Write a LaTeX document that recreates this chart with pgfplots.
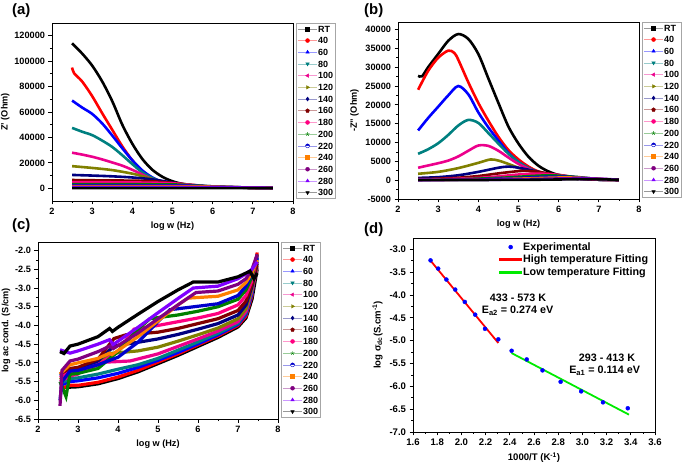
\documentclass[border=0pt]{standalone}
\usepackage{pgfplots}
\pgfplotsset{compat=1.18}
\usepackage{fontspec}
\setmainfont{Liberation Sans}
\usetikzlibrary{plotmarks}

\definecolor{cteal}{RGB}{0,128,128}
\definecolor{colive}{RGB}{128,128,0}
\definecolor{cnavy}{RGB}{0,0,128}
\definecolor{cwine}{RGB}{128,0,0}
\definecolor{cpink}{RGB}{255,0,128}
\definecolor{cgreen}{RGB}{0,128,0}
\definecolor{croyal}{RGB}{0,0,205}
\definecolor{corange}{RGB}{255,128,0}
\definecolor{cpurple}{RGB}{128,0,128}
\definecolor{cviolet}{RGB}{128,0,255}
\definecolor{cfit}{RGB}{0,235,0}
\definecolor{cfitred}{RGB}{255,0,0}

\pgfplotsset{
  sRT/.style={black, mark=square*},
  s40/.style={red, mark=*},
  s60/.style={blue, mark=triangle*},
  s80/.style={cteal, mark=triangle*, mark options={rotate=180}},
  s100/.style={magenta, mark=triangle*, mark options={rotate=90}},
  s120/.style={colive, mark=triangle*, mark options={rotate=-90}},
  s140/.style={cnavy, mark=diamond*},
  s160/.style={cwine, mark=pentagon*},
  s180/.style={cpink, mark=*},
  s200/.style={cgreen, mark=star},
  s220/.style={croyal, mark=halfcircle*},
  s240/.style={corange, mark=square*},
  s260/.style={cpurple, mark=*},
  s280/.style={cviolet, mark=triangle*},
  s300/.style={black, mark=triangle*, mark options={rotate=180}},
  panel/.style={scale only axis, tick align=outside, xtick pos=left, ytick pos=left,
    axis line style={line width=0.9pt}, major tick length=3.5bp, minor tick length=2bp,
    every tick/.style={black, line width=0.8pt},
    tick label style={font=\bfseries\fontsize{9.2}{10}\selectfont},
    label style={font=\bfseries\fontsize{9.2}{10}\selectfont},
    /pgf/number format/assume math mode=true,
    minor x tick num=1, minor y tick num=1},
  densepanel/.style={panel,
    every axis plot/.append style={line width=2.6bp, mark repeat=1000, mark phase=1000, mark size=1.8bp},
    legend cell align=left,
    legend style={at={(1.0125,1)}, anchor=north west, draw=black!35, line width=0.6pt, fill=white,
      inner sep=1.5bp, font=\bfseries\fontsize{9}{9}\selectfont, row sep=3.6bp,
      nodes={inner sep=0.8bp, text height=6.5bp, text depth=0bp},
      /tikz/every even column/.append style={column sep=1.5bp}},
    legend image code/.code={
      \draw[##1, line width=0.5bp, draw opacity=0.4] (0bp,0bp) -- (19bp,0bp);
      \draw[##1, line width=0.4bp, draw opacity=1, mark repeat=1, mark phase=1, mark size=2bp] plot coordinates {(9.5bp,0bp)};
    }},
}

\begin{document}
\begin{tikzpicture}
\path[use as bounding box] (0,0) rectangle (685bp,468bp);

% ---------------- (a) ----------------
\begin{axis}[densepanel, at={(52bp,267bp)}, anchor=south west, width=241bp, height=178bp,
  xmin=2, xmax=8, ymin=-10000, ymax=130000, xtick={2,...,8},
  ytick={0,20000,...,120000}, scaled y ticks=false, ylabel shift=-2bp,
  yticklabel style={/pgf/number format/.cd, fixed, precision=0, 1000 sep={}},
  xlabel={log w (Hz)}, ylabel={Z' (Ohm)}]
\addplot[sRT, smooth] coordinates {(2.5,114000)(2.75,106000)(3,96500)(3.25,84000)(3.5,68500)(3.75,50000)(4,35000)(4.25,23000)(4.5,14500)(4.75,9000)(5,5500)(5.25,3400)(5.5,2200)(6,1000)(6.5,600)(7,350)(7.5,250)};
\addplot[s40, smooth] coordinates {(2.5,95000)(2.55,90500)(2.75,84000)(3,72500)(3.25,59000)(3.5,46000)(3.75,33000)(4,22000)(4.25,13500)(4.5,8000)(4.75,4800)(5,3100)(5.5,1600)(6,900)(7,400)(7.5,250)};
\addplot[s60, smooth] coordinates {(2.5,69000)(2.75,63500)(3,58500)(3.25,51000)(3.5,41500)(3.75,31500)(4,22000)(4.25,14000)(4.5,8500)(4.75,5000)(5,3200)(5.5,1700)(6,900)(7,400)(7.5,250)};
\addplot[s80, smooth] coordinates {(2.5,47500)(2.75,44500)(3,41800)(3.25,37500)(3.5,32500)(3.75,26000)(4,19000)(4.25,12500)(4.5,8000)(4.75,5000)(5,3200)(5.5,1700)(6,900)(7,400)(7.5,250)};
\addplot[s100, smooth] coordinates {(2.5,28000)(2.75,26500)(3,24800)(3.25,22700)(3.5,20300)(3.75,17800)(4,14500)(4.25,10800)(4.5,7000)(4.75,4600)(5,3100)(5.5,1700)(6,900)(7,400)(7.5,250)};
\addplot[s120, smooth] coordinates {(2.5,17400)(3,16000)(3.5,14300)(4,11500)(4.25,9500)(4.5,7200)(4.75,5000)(5,3500)(5.5,1800)(6,900)(7,400)(7.5,250)};
\addplot[s140, smooth] coordinates {(2.5,10500)(3,10000)(3.5,9400)(4,8500)(4.5,7000)(5,4500)(5.5,2200)(6,1000)(7,400)(7.5,250)};
\addplot[s160, smooth] coordinates {(2.5,6500)(3,6300)(4,6000)(4.5,5500)(5,4300)(5.5,2500)(6,1100)(7,400)(7.5,250)};
\addplot[s180, smooth] coordinates {(2.5,4800)(3.5,4700)(4.5,4400)(5,3900)(5.5,2700)(6,1300)(7,450)(7.5,250)};
\addplot[s200, smooth] coordinates {(2.5,3300)(4,3200)(5,3000)(5.5,2500)(6,1500)(7,500)(7.5,250)};
\addplot[s220, smooth] coordinates {(2.5,2400)(5,2300)(5.5,2100)(6,1500)(7,500)(7.5,250)};
\addplot[s240, smooth] coordinates {(2.5,1700)(5.5,1600)(6,1300)(7,500)(7.5,250)};
\addplot[s260, smooth] coordinates {(2.5,1100)(6,1000)(7,500)(7.5,250)};
\addplot[s280, smooth] coordinates {(2.5,600)(6.5,600)(7.5,250)};
\addplot[s300, smooth] coordinates {(2.5,150)(7.5,100)};
\legend{RT,40,60,80,100,120,140,160,180,200,220,240,260,280,300}
\end{axis}

% ---------------- (b) ----------------
\begin{axis}[densepanel, at={(398bp,269bp)}, anchor=south west, width=241bp, height=177bp,
  xmin=2, xmax=8, ymin=-5000, ymax=42000, xtick={2,...,8},
  ytick={-5000,0,...,40000}, scaled y ticks=false,
  yticklabel style={/pgf/number format/.cd, fixed, precision=0, 1000 sep={}},
  xlabel={log w (Hz)}, ylabel={-Z'' (Ohm)}]
\addplot[sRT, smooth] coordinates {(2.5,27700)(2.6,27600)(2.75,30000)(3,33500)(3.25,37000)(3.5,38800)(3.75,37500)(4,33500)(4.25,27000)(4.5,20500)(4.75,14200)(5,9700)(5.25,6200)(5.5,3800)(5.75,2300)(6,1400)(6.5,600)(7,250)(7.5,100)};
\addplot[s40, smooth] coordinates {(2.5,24000)(2.75,29000)(3,32500)(3.25,34400)(3.4,33800)(3.5,32000)(3.75,26000)(4,20500)(4.25,15800)(4.5,11500)(4.75,8000)(5,5500)(5.25,3600)(5.5,2300)(6,900)(6.5,400)(7,150)(7.5,50)};
\addplot[s60, smooth] coordinates {(2.5,13200)(2.75,16500)(3,19500)(3.25,22500)(3.5,25000)(3.75,22800)(4,18000)(4.25,14000)(4.5,10500)(4.75,7200)(5,4800)(5.25,3200)(5.5,2100)(6,850)(6.5,350)(7,120)(7.5,50)};
\addplot[s80, smooth] coordinates {(2.5,7000)(2.75,8200)(3,9800)(3.25,12000)(3.5,14500)(3.75,16000)(4,15200)(4.25,12500)(4.5,9700)(4.75,7000)(5,4800)(5.25,3200)(5.5,2100)(6,850)(6.5,350)(7,120)(7.5,50)};
\addplot[s100, smooth] coordinates {(2.5,3300)(2.75,3900)(3,4500)(3.25,5200)(3.5,6300)(3.75,7800)(4,9200)(4.25,9100)(4.5,7800)(4.75,6000)(5,4300)(5.25,3000)(5.5,2000)(6,850)(6.5,350)(7,120)(7.5,50)};
\addplot[s120, smooth] coordinates {(2.5,1700)(3,2200)(3.5,3200)(4,4600)(4.3,5500)(4.5,5200)(4.75,4300)(5,3300)(5.25,2500)(5.5,1800)(6,850)(6.5,350)(7,120)(7.5,50)};
\addplot[s140, smooth] coordinates {(2.5,600)(3,800)(3.5,1300)(4,2200)(4.5,3300)(4.75,3600)(5,3300)(5.5,2200)(6,1000)(6.5,400)(7,130)(7.5,50)};
\addplot[s160, smooth] coordinates {(2.5,300)(3,400)(3.5,650)(4,1100)(4.5,1800)(5,2400)(5.25,2450)(5.5,2200)(6,1300)(6.5,500)(7,150)(7.5,50)};
\addplot[s180, smooth] coordinates {(2.5,200)(3,250)(4,600)(4.5,1000)(5,1500)(5.5,1750)(6,1400)(6.5,650)(7,200)(7.5,60)};
\addplot[s200, smooth] coordinates {(2.5,150)(3.5,250)(4.5,600)(5,900)(5.5,1200)(5.9,1250)(6.5,800)(7,250)(7.5,60)};
\addplot[s220, smooth] coordinates {(2.5,100)(4,250)(5,600)(5.5,850)(6,950)(6.5,750)(7,300)(7.5,70)};
\addplot[s240, smooth] coordinates {(2.5,80)(4,180)(5,400)(6,700)(6.5,650)(7,350)(7.5,80)};
\addplot[s260, smooth] coordinates {(2.5,50)(5,250)(6,450)(6.5,500)(7,350)(7.5,80)};
\addplot[s280, smooth] coordinates {(2.5,30)(5,150)(6,300)(6.7,380)(7.2,300)(7.5,80)};
\addplot[s300, smooth] coordinates {(2.5,20)(5,80)(6,180)(6.8,280)(7.5,100)};
\legend{RT,40,60,80,100,120,140,160,180,200,220,240,260,280,300}
\end{axis}

% ---------------- (c) ----------------
\begin{axis}[densepanel, at={(38bp,49bp)}, anchor=south west, width=240bp, height=177bp,
  every axis plot/.append style={line width=3.2bp}, ylabel shift=-2bp,
  xmin=2, xmax=8, ymin=-6.5, ymax=-1.77, xtick={2,...,8},
  ytick={-6.5,-6,...,-2}, yticklabel style={/pgf/number format/.cd, fixed, fixed zerofill, precision=1},
  xlabel={log w (Hz)}, ylabel={log ac cond. (S/cm)}]
\addplot[sRT] coordinates {(2.55,-5.65)(2.8,-5.65)(3.0,-5.64)(3.5,-5.56)(4.0,-5.42)(4.5,-5.24)(5.0,-5.02)(5.5,-4.8)(6.0,-4.56)(6.5,-4.32)(7.0,-4.04)(7.2,-3.8)(7.35,-3.3)(7.48,-2.5)};
\addplot[s40] coordinates {(2.55,-5.7)(2.8,-5.6)(3.0,-5.6)(3.5,-5.52)(4.0,-5.38)(4.5,-5.2)(5.0,-4.98)(5.5,-4.76)(6.0,-4.52)(6.5,-4.28)(7.0,-4.0)(7.2,-3.75)(7.35,-3.2)(7.48,-2.05)};
\addplot[s60] coordinates {(2.55,-5.6)(2.8,-5.5)(3.0,-5.48)(3.5,-5.4)(4.0,-5.28)(4.5,-5.12)(5.0,-4.93)(5.5,-4.72)(6.0,-4.49)(6.5,-4.25)(7.0,-3.97)(7.2,-3.7)(7.35,-3.15)(7.48,-2.15)};
\addplot[s80] coordinates {(2.55,-5.55)(2.8,-5.42)(3.0,-5.4)(3.5,-5.3)(4.0,-5.17)(4.5,-5.05)(5.0,-4.88)(5.5,-4.66)(6.0,-4.44)(6.5,-4.21)(7.0,-3.94)(7.2,-3.66)(7.35,-3.1)(7.48,-2.2)};
\addplot[s100] coordinates {(2.55,-5.5)(2.8,-5.35)(3.0,-5.3)(3.3,-5.0)(4.3,-4.95)(5.0,-4.76)(5.5,-4.56)(6.0,-4.36)(6.5,-4.15)(7.0,-3.9)(7.2,-3.62)(7.35,-3.05)(7.48,-2.45)};
\addplot[s120] coordinates {(2.55,-5.45)(2.8,-5.3)(3.0,-5.28)(3.5,-5.05)(3.8,-4.75)(4.5,-4.68)(5.0,-4.58)(5.5,-4.42)(6.0,-4.25)(6.5,-4.07)(7.0,-3.82)(7.2,-3.55)(7.35,-3.0)(7.48,-2.4)};
\addplot[s140] coordinates {(2.55,-5.35)(2.8,-5.2)(3.0,-5.18)(3.5,-4.95)(3.9,-4.55)(4.5,-4.45)(5.0,-4.36)(5.5,-4.24)(6.0,-4.1)(6.5,-3.95)(7.0,-3.72)(7.2,-3.45)(7.35,-2.95)(7.48,-2.35)};
\addplot[s160] coordinates {(2.55,-5.3)(2.8,-5.15)(3.0,-5.12)(3.5,-4.9)(3.9,-4.35)(4.2,-4.25)(5.0,-4.18)(5.5,-4.08)(6.0,-3.95)(6.5,-3.82)(7.0,-3.6)(7.2,-3.35)(7.35,-2.9)(7.48,-2.3)};
\addplot[s180] coordinates {(2.55,-5.4)(2.8,-5.25)(3.0,-5.22)(3.5,-5.05)(4.0,-4.7)(4.4,-4.1)(5.0,-4.0)(5.5,-3.9)(6.0,-3.8)(6.5,-3.68)(7.0,-3.45)(7.2,-3.2)(7.35,-2.8)(7.48,-2.1)};
\addplot[s200] coordinates {(2.55,-5.5)(2.7,-5.9)(2.8,-5.3)(3.0,-5.28)(3.5,-5.15)(4.0,-4.7)(4.5,-4.1)(4.8,-3.82)(5.5,-3.72)(6.0,-3.62)(6.5,-3.5)(7.0,-3.3)(7.2,-3.05)(7.35,-2.7)(7.48,-2.1)};
\addplot[s220] coordinates {(2.55,-6.0)(2.6,-5.5)(2.8,-5.22)(3.0,-5.2)(3.5,-5.05)(4.0,-4.85)(4.5,-4.45)(5.0,-3.9)(5.3,-3.58)(5.9,-3.5)(6.5,-3.42)(7.0,-3.2)(7.2,-2.95)(7.35,-2.6)(7.48,-2.2)};
\addplot[s240] coordinates {(2.55,-5.3)(2.8,-5.05)(3.0,-5.0)(3.5,-4.88)(3.79,-4.74)(3.85,-4.78)(4.5,-4.3)(5.0,-3.88)(5.5,-3.45)(5.75,-3.27)(6.5,-3.22)(7.0,-3.05)(7.2,-2.85)(7.35,-2.6)(7.48,-2.25)};
\addplot[s260] coordinates {(2.55,-6.15)(2.6,-5.2)(2.8,-4.95)(3.0,-4.9)(3.5,-4.7)(3.8,-4.55)(3.88,-4.62)(4.5,-4.2)(5.0,-3.82)(5.5,-3.45)(5.95,-3.12)(6.5,-3.08)(7.0,-2.9)(7.2,-2.75)(7.35,-2.5)(7.48,-2.1)};
\addplot[s280] coordinates {(2.55,-4.65)(2.8,-4.74)(3.0,-4.68)(3.5,-4.5)(3.79,-4.38)(3.88,-4.51)(4.5,-4.05)(5.0,-3.66)(5.5,-3.28)(5.88,-3.0)(6.5,-2.95)(7.0,-2.75)(7.2,-2.62)(7.35,-2.5)(7.48,-2.3)};
\addplot[s300] coordinates {(2.55,-4.7)(2.65,-4.75)(2.8,-4.55)(3.0,-4.5)(3.5,-4.3)(3.79,-4.08)(3.86,-4.16)(4.0,-4.05)(4.5,-3.7)(5.0,-3.36)(5.5,-3.05)(5.88,-2.84)(6.5,-2.84)(7.0,-2.7)(7.2,-2.6)(7.3,-2.55)(7.4,-2.75)(7.48,-2.6)};
\legend{RT,40,60,80,100,120,140,160,180,200,220,240,260,280,300}
\end{axis}

% ---------------- (d) ----------------
\begin{axis}[panel, at={(413bp,36bp)}, anchor=south west, width=242bp, height=194bp,
  tick label style={font=\bfseries\fontsize{9.6}{10}\selectfont},
  label style={font=\bfseries\fontsize{9.6}{10}\selectfont},
  xmin=1.6, xmax=3.6, ymin=-7.0, ymax=-2.75,
  xtick={1.6,1.8,...,3.61}, ytick={-7,-6.5,...,-3},
  xticklabel style={/pgf/number format/.cd, fixed, fixed zerofill, precision=1},
  yticklabel style={/pgf/number format/.cd, fixed, fixed zerofill, precision=1},
  xlabel={1000/T (K\textsuperscript{-1})}, ylabel={log σ\textsubscript{dc}(S.cm\textsuperscript{-1})},
  legend cell align=left,
  legend style={at={(0.99,0.995)}, anchor=north east, draw=none, fill=none,
    font=\bfseries\fontsize{10.8}{11}\selectfont, row sep=0.5bp, nodes={inner sep=1.3bp}}]
\addlegendimage{legend image code/.code={\fill[blue] (11bp,0bp) circle (2bp);}}
\addlegendentry{Experimental}
\addlegendimage{legend image code/.code={\fill[cfitred] (0bp,-0.9bp) rectangle (22bp,0.9bp);}}
\addlegendentry{High temperature Fitting}
\addlegendimage{legend image code/.code={\fill[cfit] (0bp,-0.9bp) rectangle (22bp,0.9bp);}}
\addlegendentry{Low temperature Fitting}
\addplot[forget plot, only marks, mark=*, blue, mark size=2bp] coordinates {(1.745,-3.24)(1.808,-3.42)(1.876,-3.66)(1.949,-3.88)(2.028,-4.15)(2.114,-4.43)(2.195,-4.74)(2.305,-4.97)(2.415,-5.22)(2.54,-5.41)(2.67,-5.65)(2.82,-5.90)(2.99,-6.11)(3.17,-6.35)(3.375,-6.48)};
\addplot[forget plot, color=cfitred, line width=1.8bp] coordinates {(1.737,-3.22)(2.305,-5.05)};
\addplot[forget plot, color=cfit, line width=1.8bp] coordinates {(2.414,-5.27)(3.385,-6.62)};
\node[font=\bfseries\fontsize{10.8}{11}\selectfont] at (axis cs:2.468,-4.05) {433 - 573 K};
\node[font=\bfseries\fontsize{10.8}{11}\selectfont] at (axis cs:2.464,-4.34) {E\textsubscript{a2} = 0.274 eV};
\node[font=\bfseries\fontsize{10.8}{11}\selectfont] at (axis cs:3.203,-5.37) {293 - 413 K};
\node[font=\bfseries\fontsize{10.8}{11}\selectfont] at (axis cs:3.184,-5.66) {E\textsubscript{a1} = 0.114 eV};
\end{axis}

\node[anchor=north west, font=\bfseries\fontsize{15}{15}\selectfont, inner sep=0pt] at (12bp,465bp) {(a)};
\node[anchor=north west, font=\bfseries\fontsize{15}{15}\selectfont, inner sep=0pt] at (364bp,465bp) {(b)};
\node[anchor=north west, font=\bfseries\fontsize{15}{15}\selectfont, inner sep=0pt] at (12bp,250bp) {(c)};
\node[anchor=north west, font=\bfseries\fontsize{15}{15}\selectfont, inner sep=0pt] at (364bp,246bp) {(d)};
\end{tikzpicture}
\end{document}
